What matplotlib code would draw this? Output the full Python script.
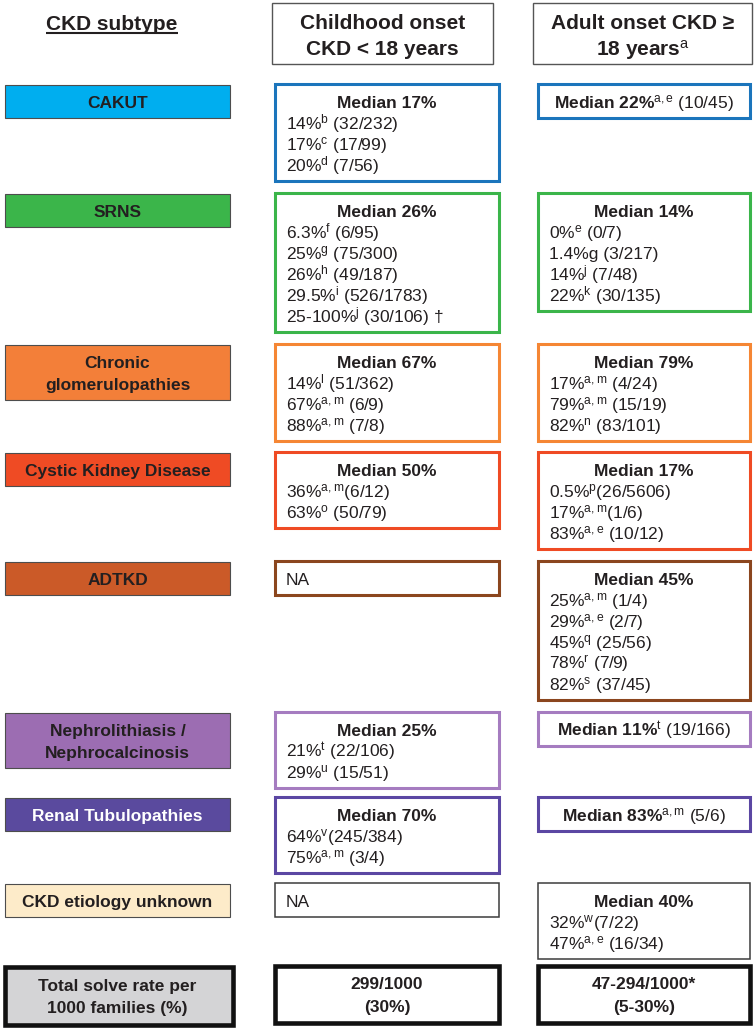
import re
import matplotlib
matplotlib.use("Agg")
import matplotlib.pyplot as plt
from matplotlib.patches import Rectangle

plt.rcParams['font.family'] = ['Liberation Sans', 'DejaVu Sans']
plt.rcParams['mathtext.fontset'] = 'custom'
plt.rcParams['mathtext.rm'] = 'Liberation Sans'
plt.rcParams['mathtext.bf'] = 'Liberation Sans:bold'
plt.rcParams['mathtext.it'] = 'Liberation Sans:italic'

# ---- data ----
col_headers = ["Childhood onset\nCKD < 18 years", "Adult onset CKD \u2265\n18 years{a}"]
categories = ["CAKUT", "SRNS", "Chronic\nglomerulopathies", "Cystic Kidney Disease", "ADTKD",
              "Nephrolithiasis /\nNephrocalcinosis", "Renal Tubulopathies", "CKD etiology unknown",
              "Total solve rate per\n1000 families (%)"]
cat_fill = ["#00AEEF", "#3BB54A", "#F37F39", "#EF4B24", "#CB5A28",
            "#9C6DB2", "#5A4A9E", "#FDEBC9", "#D4D4D6"]
cat_text = ["#231F20"] * 6 + ["#FFFFFF", "#231F20", "#231F20"]
box_edge = ["#1B75BC", "#3BB54A", "#F58634", "#EF4B24", "#8B461E",
            "#A57CC0", "#5B47A3", "#3C3C3C", "#111111"]

child_median = ["Median 17%", "Median 26%", "Median 67%", "Median 50%", None,
                "Median 25%", "Median 70%", None, "299/1000\n(30%)"]
child_values = [
    ["14%{b} (32/232)", "17%{c} (17/99)", "20%{d} (7/56)"],
    ["6.3%{f} (6/95)", "25%{g} (75/300)", "26%{h} (49/187)", "29.5%{i} (526/1783)",
     "25-100%{j} (30/106) \u2020"],
    ["14%{l} (51/362)", "67%{a, m} (6/9)", "88%{a, m} (7/8)"],
    ["36%{a, m}(6/12)", "63%{o} (50/79)"],
    ["NA"],
    ["21%{t} (22/106)", "29%{u} (15/51)"],
    ["64%{v}(245/384)", "75%{a,m} (3/4)"],
    ["NA"],
    [],
]

adult_median = ["Median 22%{a,e} (10/45)", "Median 14%", "Median 79%", "Median 17%",
                "Median 45%", "Median 11%{t} (19/166)", "Median 83%{a,m} (5/6)",
                "Median 40%", "47-294/1000*\n(5-30%)"]
adult_values = [
    [],
    ["0%{e} (0/7)", "1.4%g (3/217)", "14%{j} (7/48)", "22%{k} (30/135)"],
    ["17%{a, m} (4/24)", "79%{a, m} (15/19)", "82%{n} (83/101)"],
    ["0.5%{p}(26/5606)", "17%{a,m}(1/6)", "83%{a,e} (10/12)"],
    ["25%{a,m} (1/4)", "29%{a,e} (2/7)", "45%{q} (25/56)", "78%{r} (7/9)", "82%{s} (37/45)"],
    [],
    [],
    ["32%{w}(7/22)", "47%{a,e} (16/34)"],
    [],
]

# ---- layout ----
row_top = [84, 193, 344, 452, 561, 712, 797, 883, 966]
cat_x, cat_w = 5, 225
child_x, child_w = 275, 224
adult_x, adult_w = 538, 212
FS = 12.5
DARK = "#231F20"
LINE = 21


def sup(s):
    return re.sub(r"\{([^}]*)\}",
                  lambda m: r"$^{\mathrm{" + m.group(1).replace(" ", "") + "}}$", s)


def bold_sup(s):
    if "{" not in s:
        return s, "bold"
    head, rest = s.split("{", 1)
    sc, tail = rest.split("}", 1)
    head = head.replace(" ", r"\ ").replace("%", r"\%")
    return r"$\mathbf{" + head + r"}^{\mathrm{" + sc + "}}$" + tail, "normal"


fig = plt.figure(figsize=(7.55, 10.28), dpi=100)
ax = fig.add_axes([0, 0, 1, 1])
ax.set_xlim(0, 755)
ax.set_ylim(1028, 0)
ax.axis("off")


def box(x, y, w, h, edge, lw, fill="white"):
    ax.add_patch(Rectangle((x, y), w, h, facecolor=fill, edgecolor=edge, linewidth=lw))


def centred_lines(xc, yc, lines, fs, step, **kw):
    n = len(lines)
    cap = 0.716 * fs * 100 / 72
    for i, ln in enumerate(lines):
        yy = yc + (i - (n - 1) / 2) * step + cap / 2
        ax.text(xc, yy, ln, fontsize=fs, ha="center", va="baseline", **kw)


# header
hd = ax.text(112, 29.5, "CKD subtype", fontsize=15, fontweight="bold", color=DARK,
             ha="center", va="baseline")
for x0, w0, txt in [(272, 221, col_headers[0]), (533, 219, col_headers[1])]:
    box(x0, 3, w0, 61, "#555555", 1.0)
    centred_lines(x0 + w0 / 2, 35, [sup(t) for t in txt.split("\n")], 15, 26,
                  fontweight="bold", color=DARK)

for i, cat in enumerate(categories):
    top = row_top[i]
    total = i == len(categories) - 1
    nl = len(cat.split("\n"))
    ch = 58 if total else 33 + 22 * (nl - 1)
    box(cat_x, top + 1, cat_w + (3 if total else 0), ch, "#111111" if total else "#4D4D4D",
        3.3 if total else 0.8, cat_fill[i])
    centred_lines(cat_x + cat_w / 2, top + 1 + ch / 2, cat.split("\n"), FS, 22,
                  fontweight="bold", color=cat_text[i])

    for x0, w0, med, vals in [(child_x, child_w, child_median[i], child_values[i]),
                              (adult_x, adult_w, adult_median[i], adult_values[i])]:
        if total:
            box(x0, top, w0, 57, box_edge[i], 3.3)
            centred_lines(x0 + w0 / 2, top + 28.5, med.split("\n"), FS, 23,
                          fontweight="bold", color=DARK)
            continue
        n = len(vals) + (1 if med else 0)
        h = 34 + LINE * (n - 1)
        lw = 1.1 if i == 7 else 2.2
        box(x0, top, w0, h, box_edge[i], lw)
        k = 0
        if med:
            txt, wt = bold_sup(med)
            ax.text(x0 + w0 / 2, top + 24, txt, fontsize=FS, fontweight=wt, color=DARK,
                    ha="center", va="baseline")
            k = 1
        for j, v in enumerate(vals):
            ax.text(x0 + 11, top + 24 + LINE * (k + j), sup(v), fontsize=FS, color=DARK,
                    ha="left", va="baseline")

# underline the column title
fig.canvas.draw()
bb = hd.get_window_extent().transformed(ax.transData.inverted())
ax.plot([bb.x0, bb.x1], [32.5, 32.5], color=DARK, linewidth=1.5, solid_capstyle="butt")

fig.savefig("out.png", dpi=100)
